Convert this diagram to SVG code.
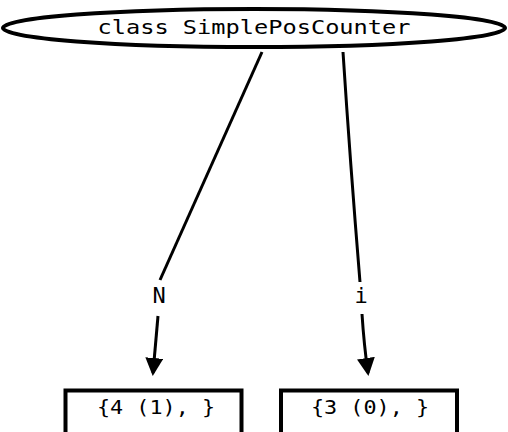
<svg xmlns="http://www.w3.org/2000/svg" width="508" height="432" viewBox="0 0 508 432">
  <style>
    .shape { fill: #fff; stroke: #000; stroke-width: 4; }
    .edge { fill: none; stroke: #000; stroke-width: 3; }
    .lbl { font-family: "DejaVu Sans Mono", "Liberation Mono", monospace; font-size: 20px; fill: #000; text-anchor: middle; }
    .elbl { font-size: 22px; }
  </style>
  <defs>
    <marker id="arrow" markerWidth="6" markerHeight="6" refX="5" refY="3" orient="auto" markerUnits="strokeWidth">
      <path d="M0,0 L6,3 L0,6 Z" fill="#000"/>
    </marker>
  </defs>
  <rect width="508" height="432" fill="#fff"/>

  <g id="connectors">
    <path class="edge" d="M262,52 L160,280"/>
    <path class="edge" d="M158,316 L153,373" marker-end="url(#arrow)"/>
    <path class="edge" d="M343,52 Q350,160 360,282"/>
    <path class="edge" d="M362,314 Q364,345 368,373" marker-end="url(#arrow)"/>
    <text class="lbl elbl" x="159" y="303">N</text>
    <text class="lbl elbl" x="361" y="303">i</text>
  </g>

  <g id="node-class">
    <ellipse class="shape" cx="254" cy="28" rx="251" ry="19"/>
    <text class="lbl" x="254" y="34" textLength="313" lengthAdjust="spacingAndGlyphs">class SimplePosCounter</text>
  </g>

  <g id="node-N">
    <rect class="shape" x="65.5" y="390.5" width="176" height="50"/>
    <text class="lbl" x="156" y="414" textLength="118" lengthAdjust="spacingAndGlyphs">{4 (1), }</text>
  </g>

  <g id="node-i">
    <rect class="shape" x="281" y="390.5" width="176" height="50"/>
    <text class="lbl" x="370" y="414" textLength="118" lengthAdjust="spacingAndGlyphs">{3 (0), }</text>
  </g>
</svg>
